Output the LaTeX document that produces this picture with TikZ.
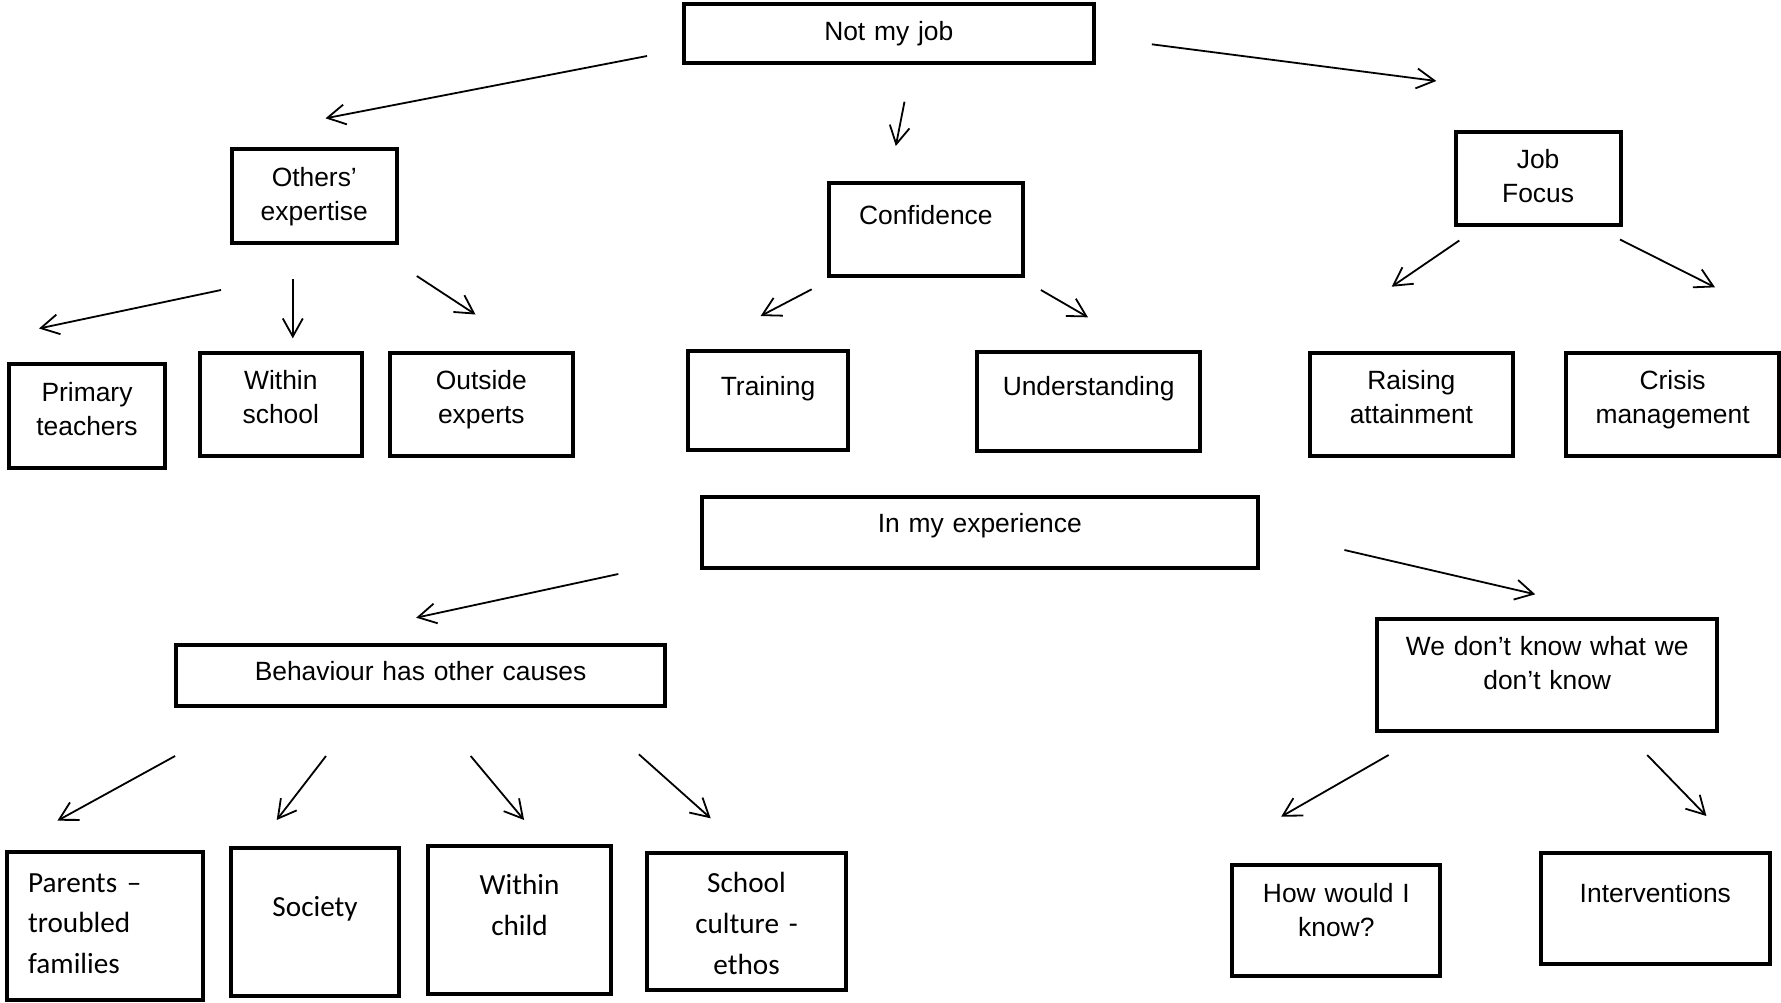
\documentclass[tikz,border=0pt]{standalone}
\usepackage{fontspec}
\usepackage{tikz}
\usetikzlibrary{arrows.meta}
\newfontfamily\arialfont{Liberation Sans}
\newfontfamily\calibrifont{Carlito}
\pgfdeclarelayer{edgelayer}
\pgfdeclarelayer{nodelayer}
\pgfsetlayers{edgelayer,nodelayer,main}
\tikzstyle{box}=[draw=black,line width=2pt,inner xsep=0.6pt,inner ysep=0pt,xshift=-1.2pt,yshift=1.2pt,anchor=north west,align=center,font=\arialfont\fontsize{13.2pt}{17pt}\selectfont]
\tikzstyle{cbox}=[box,font=\calibrifont\fontsize{14.6pt}{20.3pt}\selectfont]
\tikzstyle{arr}=[-{Straight Barb[length=9pt,width=10pt]},line width=0.9pt]

\begin{document}
\begin{tikzpicture}[x=0.5pt,y=-0.5pt]
	\useasboundingbox (0,0) rectangle (1781,1002);
	\begin{pgfonlayer}{nodelayer}
		% top branch
		\node [style=box, text width=204pt, text height=18.3pt, text depth=11.2pt] (njob) at (684,4) {Not my job};
		\node [style=box, text width=81.5pt, text height=18.9pt, text depth=28.1pt] (oexp) at (232,149) {Others’\\expertise};
		\node [style=box, text width=95.5pt, text height=20.4pt, text depth=25.9pt] (conf) at (829.5,183.7) {Confidence};
		\node [style=box, text width=81.3pt, text height=18.4pt, text depth=28.1pt] (jfoc) at (1456,132.5) {Job\\Focus};
		\node [style=box, text width=77.2pt, text height=18.5pt, text depth=33.2pt] (prim) at (9,364.7) {Primary\\teachers};
		\node [style=box, text width=79.7pt, text height=18.4pt, text depth=33.3pt] (wsch) at (200.3,353.3) {Within\\school};
		\node [style=box, text width=90.3pt, text height=18.4pt, text depth=33.3pt] (oxpt) at (390.2,353.3) {Outside\\experts};
		\node [style=box, text width=78.8pt, text height=22.1pt, text depth=27.6pt] (trng) at (688.4,351.3) {Training};
		\node [style=box, text width=110pt, text height=21.8pt, text depth=27.9pt] (undr) at (977.8,352) {Understanding};
		\node [style=box, text width=100.3pt, text height=18.2pt, text depth=33.2pt] (rais) at (1310.3,353.7) {Raising\\attainment};
		\node [style=box, text width=105.3pt, text height=18.2pt, text depth=33.2pt] (cris) at (1566.5,353.7) {Crisis\\management};
		% bottom branch
		\node [style=box, text width=277pt, text height=17.8pt, text depth=17.4pt] (imex) at (702,497.7) {In my experience};
		\node [style=box, text width=243.3pt, text height=17.8pt, text depth=13pt] (beha) at (176.5,645) {Behaviour has other causes};
		\node [style=box, text width=169pt, text height=18.4pt, text depth=37.7pt] (wdk) at (1377.4,619.3) {We don’t know what we\\don’t know};
		\node [style=cbox, align=left, inner xsep=10.4pt, text width=76.9pt, text height=20.3pt, text depth=53.7pt] (pare) at (7.7,852) {Parents –\\troubled\\families};
		\node [style=cbox, text width=82.7pt, text height=34.5pt, text depth=39.7pt] (soci) at (231.6,848) {Society};
		\node [style=cbox, text width=90.7pt, text height=24.4pt, text depth=49.5pt] (wchi) at (428,846.3) {Within\\child};
		\node [style=cbox, text width=97.9pt, text height=19.8pt, text depth=48.4pt] (scul) at (647.8,853.7) {School\\culture -\\ethos};
		\node [style=box, text width=102.9pt, text height=19pt, text depth=36.5pt] (howk) at (1232.6,865.3) {How would I\\know?};
		\node [style=box, text width=113.3pt, text height=24.8pt, text depth=30.4pt] (intv) at (1541.2,853.7) {Interventions};
	\end{pgfonlayer}
	% free arrow ends, t = tail, h = head
	\coordinate (t-oexp) at (647,56);      \coordinate (h-oexp) at (325.5,118.3);
	\coordinate (t-conf) at (904.5,101.7); \coordinate (h-conf) at (895.8,146);
	\coordinate (t-jfoc) at (1151.8,44.3); \coordinate (h-jfoc) at (1436.3,81);
	\coordinate (t-prim) at (221,290);     \coordinate (h-prim) at (39,328.5);
	\coordinate (t-wsch) at (292.8,279.3); \coordinate (h-wsch) at (292.8,338.3);
	\coordinate (t-oxpt) at (416.8,276);   \coordinate (h-oxpt) at (475.5,314.5);
	\coordinate (t-trng) at (811.7,289.3); \coordinate (h-trng) at (760.6,316);
	\coordinate (t-undr) at (1040.9,290);  \coordinate (h-undr) at (1088,317.3);
	\coordinate (t-rais) at (1459.3,240.5); \coordinate (h-rais) at (1391.7,286.7);
	\coordinate (t-cris) at (1620,239.5);  \coordinate (h-cris) at (1715,287.3);
	\coordinate (t-beha) at (618.3,574);   \coordinate (h-beha) at (416.2,617.7);
	\coordinate (t-wdk) at (1344.4,550);   \coordinate (h-wdk) at (1535.2,594.3);
	\coordinate (t-pare) at (175.1,756);   \coordinate (h-pare) at (57.4,820.7);
	\coordinate (t-soci) at (326,756);     \coordinate (h-soci) at (276.7,820);
	\coordinate (t-wchi) at (470.7,756);   \coordinate (h-wchi) at (524.1,820);
	\coordinate (t-scul) at (638.9,754.3); \coordinate (h-scul) at (710.7,818.3);
	\coordinate (t-howk) at (1388.6,755);  \coordinate (h-howk) at (1281.1,816.7);
	\coordinate (t-intv) at (1647.2,755);  \coordinate (h-intv) at (1706.4,816);
	\begin{pgfonlayer}{edgelayer}
		\draw [style=arr] (t-oexp) to (h-oexp);
		\draw [style=arr] (t-conf) to (h-conf);
		\draw [style=arr] (t-jfoc) to (h-jfoc);
		\draw [style=arr] (t-prim) to (h-prim);
		\draw [style=arr] (t-wsch) to (h-wsch);
		\draw [style=arr] (t-oxpt) to (h-oxpt);
		\draw [style=arr] (t-trng) to (h-trng);
		\draw [style=arr] (t-undr) to (h-undr);
		\draw [style=arr] (t-rais) to (h-rais);
		\draw [style=arr] (t-cris) to (h-cris);
		\draw [style=arr] (t-beha) to (h-beha);
		\draw [style=arr] (t-wdk) to (h-wdk);
		\draw [style=arr] (t-pare) to (h-pare);
		\draw [style=arr] (t-soci) to (h-soci);
		\draw [style=arr] (t-wchi) to (h-wchi);
		\draw [style=arr] (t-scul) to (h-scul);
		\draw [style=arr] (t-howk) to (h-howk);
		\draw [style=arr] (t-intv) to (h-intv);
	\end{pgfonlayer}
\end{tikzpicture}
\end{document}
